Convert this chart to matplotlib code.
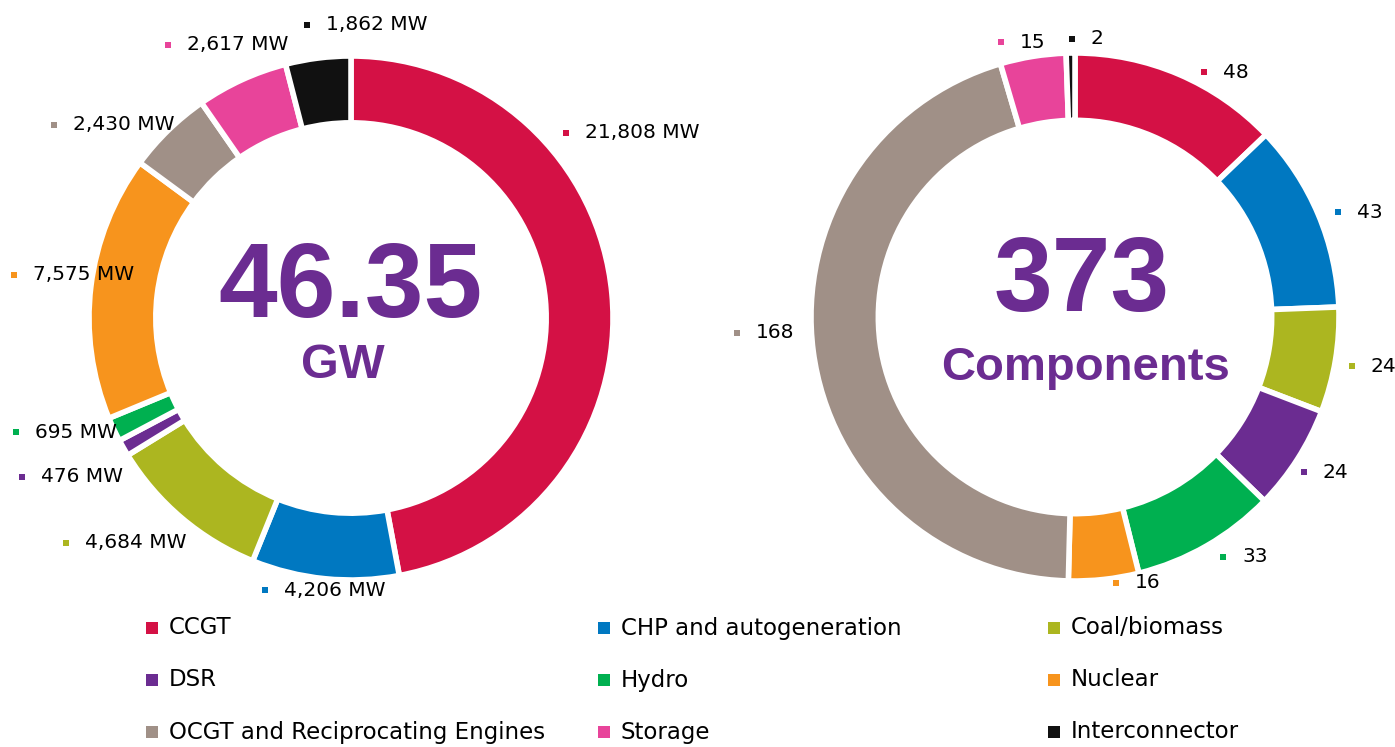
import matplotlib.pyplot as plt

# categories and values
categories = ['CCGT', 'CHP and autogeneration', 'Coal/biomass', 'DSR', 'Hydro',
              'Nuclear', 'OCGT and Reciprocating Engines', 'Storage', 'Interconnector']
capacity_mw = [21808, 4206, 4684, 476, 695, 7575, 2430, 2617, 1862]
components = [48, 43, 24, 24, 33, 16, 168, 15, 2]
colors = ['#D41145', '#0078C1', '#ACB620', '#6B2C91', '#00B050',
          '#F7941D', '#A09087', '#E8449A', '#111111']

# layout (pixel positions in the image, y measured from top)
W, H = 1395, 747
left_center, right_center = (351, 318), (1075, 317)
left_radius, right_radius = 262, 264
left_label_pos = [(566, 133), (265, 590), (66, 543), (22, 477), (16, 432),
                  (14, 275), (54, 125), (168, 45), (307, 25)]
right_label_pos = [(1204, 72), (1338, 212), (1352, 366), (1304, 472), (1223, 557),
                   (1116, 583), (737, 333), (1001, 42), (1072, 39)]
legend_cols = [152, 604, 1054]
legend_rows = [628, 680, 732]

purple = '#6B2C91'
plt.rcParams['font.family'] = ['DejaVu Sans']


def flip(p):
    return (p[0], H - p[1])


fig = plt.figure(figsize=(W / 100, H / 100), dpi=100)
ax = fig.add_axes([0, 0, 1, 1])

for vals, c, r in [(capacity_mw, left_center, left_radius),
                   (components, right_center, right_radius)]:
    ax.pie(vals, colors=colors, startangle=90, counterclock=False,
           center=flip(c), radius=r,
           wedgeprops=dict(width=r * 0.255, edgecolor='white', linewidth=4))

ax.set_xlim(0, W)
ax.set_ylim(0, H)
ax.set_aspect('equal')
ax.axis('off')

# data labels
for vals, pos, fmt in [(capacity_mw, left_label_pos, '{:,} MW'),
                       (components, right_label_pos, '{}')]:
    for v, p, col in zip(vals, pos, colors):
        x, y = flip(p)
        ax.scatter(x, y, marker='s', s=14, color=col, linewidths=0, zorder=5)
        ax.text(x + 19, y, fmt.format(v), fontsize=14.5, va='center', ha='left',
                color='black', zorder=5)

# centre totals
ax.text(350, H - 289, f'{sum(capacity_mw) / 1000:.2f}', fontsize=76,
        fontweight='bold', family='Liberation Sans', color=purple,
        ha='center', va='center')
ax.text(343, H - 366, 'GW', fontsize=35, fontweight='bold',
        family='Liberation Sans', color=purple, ha='center', va='center')
ax.text(1082, H - 283, f'{sum(components)}', fontsize=76, fontweight='bold',
        family='Liberation Sans', color=purple, ha='center', va='center')
ax.text(1086, H - 368, 'Components', fontsize=34, fontweight='bold',
        family='Liberation Sans', color=purple, ha='center', va='center')

# legend grid
for i, (name, col) in enumerate(zip(categories, colors)):
    x = legend_cols[i % 3]
    y = H - legend_rows[i // 3]
    ax.scatter(x, y, marker='s', s=64, color=col, linewidths=0)
    ax.text(x + 17, y, name, fontsize=16.5, va='center', ha='left')

fig.savefig('out.png', dpi=100)
